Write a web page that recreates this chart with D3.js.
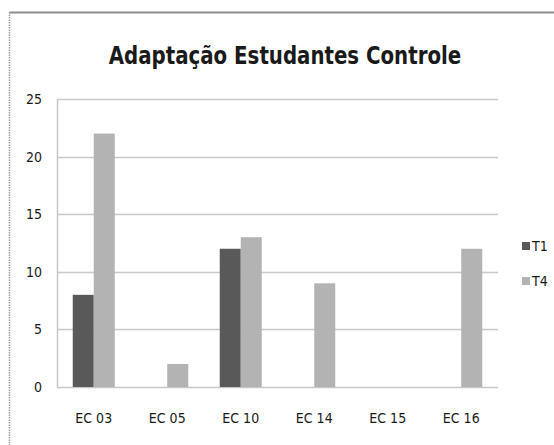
<!DOCTYPE html>
<html>
<head>
<meta charset="utf-8">
<script src="https://cdn.jsdelivr.net/npm/d3@7"></script>
<style>
  html, body { margin: 0; padding: 0; background: #fff; }
  svg { display: block; }
  text { font-family: "DejaVu Sans Condensed", "Liberation Sans Narrow", "Open Sans", sans-serif; fill: #1a1a1a; }
</style>
</head>
<body>
<script>
// Chart content
const titleText = "Adaptação Estudantes Controle";
const categories = ["EC 03", "EC 05", "EC 10", "EC 14", "EC 15", "EC 16"];
const seriesNames = ["T1", "T4"];
const seriesT1 = [8, 0, 12, 0, 0, 0];
const seriesT4 = [22, 2, 13, 9, 0, 12];
const yTicks = [0, 5, 10, 15, 20, 25];
const colors = ["#595959", "#b3b3b3"];

const W = 554, H = 445;
const svg = d3.select("body").append("svg").attr("width", W).attr("height", H);

// Chart frame (extends past the right and bottom edges)
svg.append("line").attr("x1", 9.5).attr("x2", W + 5).attr("y1", 12.5).attr("y2", 12.5)
  .attr("stroke", "#8c8c8c").attr("stroke-width", 2);
svg.append("line").attr("x1", 9.5).attr("x2", 9.5).attr("y1", 12).attr("y2", H + 5)
  .attr("stroke", "#9a9a9a").attr("stroke-width", 1.5).attr("stroke-dasharray", "1.5,1");

const plot = { left: 57, right: 498, top: 99, bottom: 387 };

const x0 = d3.scaleBand().domain(categories).range([plot.left, plot.right]).padding(0);
const x1 = d3.scaleBand().domain(seriesNames).range([0, x0.bandwidth()]).paddingOuter(0.75).paddingInner(0);
const y = d3.scaleLinear().domain([0, 25]).range([plot.bottom, plot.top]);

// Gridlines
svg.append("g").selectAll("line").data(yTicks).join("line")
  .attr("x1", plot.left).attr("x2", plot.right)
  .attr("y1", d => Math.round(y(d)) + 0.5).attr("y2", d => Math.round(y(d)) + 0.5)
  .attr("stroke", "#c8c8c8").attr("stroke-width", 1.5);

// Value axis line
svg.append("line").attr("x1", plot.left + 0.5).attr("x2", plot.left + 0.5)
  .attr("y1", plot.top).attr("y2", plot.bottom + 1)
  .attr("stroke", "#c8c8c8").attr("stroke-width", 1.5);

// Y tick labels
const yAxis = d3.axisLeft(y).tickValues(yTicks).tickSize(0).tickPadding(0);
const gy = svg.append("g").attr("transform", `translate(${plot.left - 15},0)`).call(yAxis);
gy.select(".domain").remove();
gy.selectAll("text").attr("font-size", 14).attr("font-family", null).attr("fill", "#1a1a1a");

// Bars
const rows = categories.map((c, i) => ({ cat: c, values: [seriesT1[i], seriesT4[i]] }));
const groups = svg.append("g").selectAll("g").data(rows).join("g")
  .attr("transform", d => `translate(${x0(d.cat)},0)`);
groups.selectAll("rect").data(d => d.values.map((v, j) => ({ key: seriesNames[j], v, j })))
  .join("rect")
  .filter(d => d.v > 0)
  .attr("x", d => x1(d.key))
  .attr("width", x1.bandwidth())
  .attr("y", d => y(d.v))
  .attr("height", d => y(0) - y(d.v))
  .attr("fill", d => colors[d.j]);

// X tick labels
const xAxis = d3.axisBottom(x0).tickSize(0).tickPadding(0);
const gx = svg.append("g").attr("transform", `translate(0,${plot.bottom + 26})`).call(xAxis);
gx.select(".domain").remove();
gx.selectAll("text").attr("font-size", 14).attr("font-family", null).attr("fill", "#1a1a1a");

// Title (slightly tall lettering)
svg.append("text").attr("transform", "translate(285,64) scale(1,1.15)")
  .attr("text-anchor", "middle").attr("font-size", 22).attr("font-weight", "bold")
  .text(titleText);

// Legend
const legend = svg.append("g").selectAll("g").data(seriesNames).join("g")
  .attr("transform", (d, i) => `translate(522,${242 + i * 35})`);
legend.append("rect").attr("width", 8).attr("height", 8).attr("fill", (d, i) => colors[i]);
legend.append("text").attr("x", 10).attr("y", 9).attr("font-size", 14).text(d => d);
</script>
</body>
</html>
